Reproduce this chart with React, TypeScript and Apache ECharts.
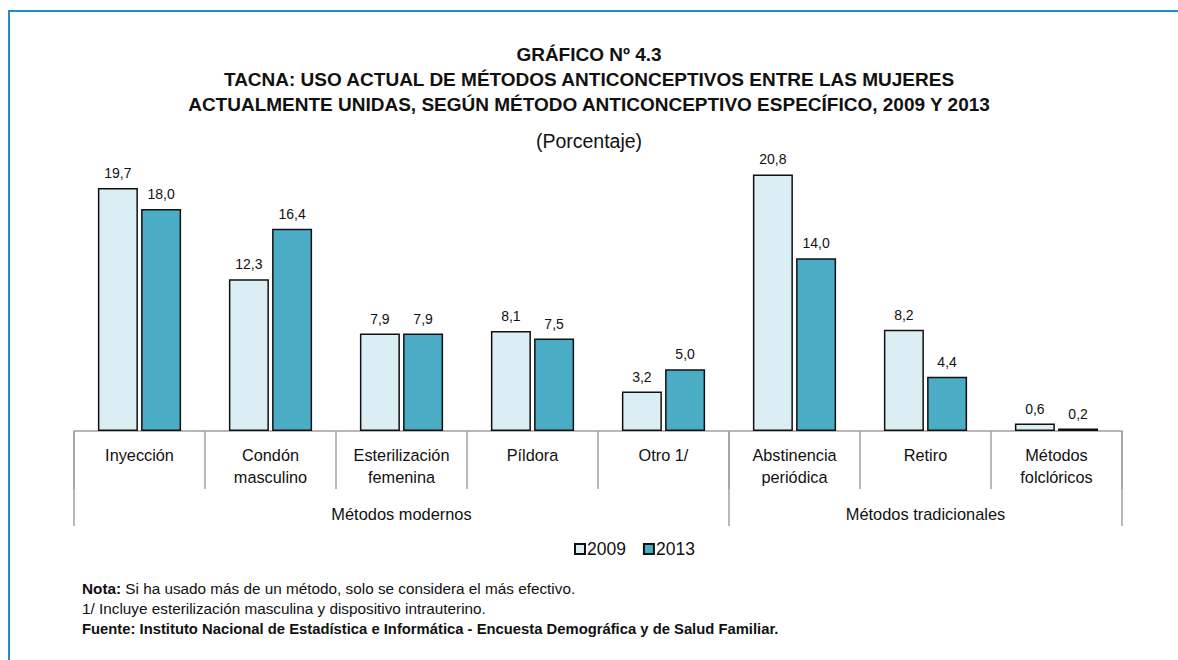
import React, { useEffect, useRef } from "react";
import * as echarts from "echarts";

const categories = [
  "Inyección",
  "Condón\nmasculino",
  "Esterilización\nfemenina",
  "Píldora",
  "Otro 1/",
  "Abstinencia\nperiódica",
  "Retiro",
  "Métodos\nfolclóricos",
];
const values2009 = [19.7, 12.3, 7.9, 8.1, 3.2, 20.8, 8.2, 0.6];
const values2013 = [18.0, 16.4, 7.9, 7.5, 5.0, 14.0, 4.4, 0.2];
const seriesNames = ["2009", "2013"];
const groupLabels = ["Métodos modernos", "Métodos tradicionales"];
const groupBounds = [0, 5, 8];
const groupCenters = [2.5, 6.5];

const titleLines = [
  "GRÁFICO Nº 4.3",
  "TACNA: USO ACTUAL DE MÉTODOS ANTICONCEPTIVOS ENTRE LAS MUJERES",
  "ACTUALMENTE UNIDAS, SEGÚN MÉTODO ANTICONCEPTIVO ESPECÍFICO, 2009 Y 2013",
];
const subtitle = "(Porcentaje)";
const notes = [
  "{b|Nota:} Si ha usado más de un método, solo se considera el más efectivo.",
  "1/ Incluye esterilización masculina y dispositivo intrauterino.",
  "{f|Fuente: Instituto Nacional de Estadística e Informática - Encuesta Demográfica y de Salud Familiar.}",
];

const FONT = "'Liberation Sans', Arial, sans-serif";

export default function App() {
  const ref = useRef<HTMLDivElement>(null);
  useEffect(() => {
    if (!ref.current) return;
    const chart = echarts.init(ref.current, null, { renderer: "svg" });
    const fmt = (p: any) => Number(p.value).toFixed(1).replace(".", ",");
    chart.setOption({
      animation: false,
      backgroundColor: "#ffffff",
      textStyle: { fontFamily: FONT },
      title: [
        {
          text: titleLines.join("\n"),
          left: "center",
          top: 37,
          textStyle: {
            fontFamily: FONT,
            fontWeight: "bold",
            fontSize: 19,
            lineHeight: 25,
            color: "#111",
          },
        },
        {
          text: subtitle,
          left: "center",
          top: 124,
          textStyle: {
            fontFamily: FONT,
            fontWeight: "normal",
            fontSize: 19.5,
            lineHeight: 24,
            color: "#111",
          },
        },
        {
          text: notes.join("\n"),
          left: 77,
          top: 573,
          textStyle: {
            fontFamily: FONT,
            fontWeight: "normal",
            fontSize: 15.3,
            lineHeight: 20.5,
            color: "#111",
            rich: {
              b: { fontFamily: FONT, fontWeight: "bold", fontSize: 15.3, lineHeight: 20.5, color: "#111" },
              f: { fontFamily: FONT, fontWeight: "bold", fontSize: 14.8, lineHeight: 20.5, color: "#111" },
            },
          },
        },
      ],
      legend: {
        data: seriesNames,
        left: 569,
        top: 535,
        itemWidth: 10,
        itemHeight: 10,
        itemGap: 17,
        icon: "rect",
        textStyle: { fontFamily: FONT, fontSize: 17.5, color: "#111", padding: [0, 0, 0, -3] },
      },
      grid: { left: 74, right: 56, top: 135, bottom: 229, containLabel: false },
      xAxis: [
        {
          type: "category",
          data: categories,
          position: "bottom",
          axisLine: { show: true, lineStyle: { color: "#a0a0a0", width: 1.5 } },
          axisTick: { show: true, length: 58, alignWithLabel: false, lineStyle: { color: "#a0a0a0", width: 1.5 } },
          axisLabel: {
            interval: 0,
            margin: 13,
            fontFamily: FONT,
            fontSize: 16.3,
            lineHeight: 22,
            color: "#111",
            verticalAlign: "top",
          },
          splitLine: { show: false },
        },
        {
          type: "value",
          min: 0,
          max: 8,
          position: "bottom",
          axisLine: { show: false },
          axisTick: {
            show: true,
            length: 95,
            customValues: groupBounds,
            lineStyle: { color: "#a0a0a0", width: 1.5 },
          },
          axisLabel: {
            show: true,
            margin: 72,
            customValues: groupCenters,
            formatter: (v: number) => groupLabels[groupCenters.indexOf(v)] ?? "",
            fontFamily: FONT,
            fontSize: 16.4,
            lineHeight: 22,
            color: "#111",
            verticalAlign: "top",
          },
          splitLine: { show: false },
        },
      ],
      yAxis: {
        type: "value",
        min: 0,
        max: 24,
        show: false,
        splitLine: { show: false },
      },
      series: [
        {
          name: seriesNames[0],
          type: "bar",
          xAxisIndex: 0,
          data: values2009,
          barWidth: 40,
          barGap: "8%",
          itemStyle: { color: "#daeef3", borderColor: "#111", borderWidth: 1.5 },
          label: {
            show: true,
            position: "top",
            distance: 8,
            formatter: fmt,
            fontFamily: FONT,
            fontSize: 14,
            color: "#111",
          },
        },
        {
          name: seriesNames[1],
          type: "bar",
          xAxisIndex: 0,
          data: values2013,
          barWidth: 40,
          itemStyle: { color: "#4bacc6", borderColor: "#111", borderWidth: 1.5 },
          label: {
            show: true,
            position: "top",
            distance: 8,
            formatter: fmt,
            fontFamily: FONT,
            fontSize: 14,
            color: "#111",
          },
        },
      ],
      graphic: [
        {
          type: "rect",
          silent: true,
          shape: { x: 9, y: 11, width: 1300, height: 800 },
          style: { fill: "none", stroke: "#1f8dc6", lineWidth: 2 },
        },
      ],
    });
    return () => chart.dispose();
  }, []);
  return (
    <div
      ref={ref}
      style={{ position: "fixed", left: 0, top: 0, width: 1178, height: 660 }}
    />
  );
}
